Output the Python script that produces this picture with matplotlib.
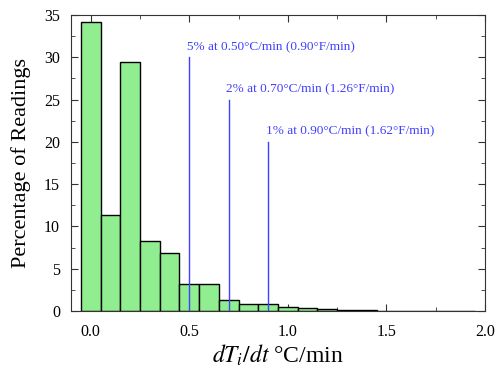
import matplotlib
matplotlib.use("Agg")
import matplotlib.pyplot as plt
from matplotlib.ticker import MultipleLocator

bin_centers = [0.0, 0.1, 0.2, 0.3, 0.4, 0.5, 0.6, 0.7, 0.8, 0.9, 1.0, 1.1, 1.2, 1.3, 1.4, 1.5, 1.6, 1.7, 1.8, 1.9]
percentages = [34.2, 11.3, 29.5, 8.3, 6.8, 3.2, 3.2, 1.3, 0.85, 0.8, 0.5, 0.35, 0.2, 0.15, 0.1, 0.05, 0.03, 0.02, 0.02, 0.01]

marker_x = [0.5, 0.7, 0.9]
marker_top = [30, 25, 20]
marker_labels = ["5% at 0.50°C/min (0.90°F/min)",
                 "2% at 0.70°C/min (1.26°F/min)",
                 "1% at 0.90°C/min (1.62°F/min)"]

plt.rcParams['font.family'] = ['Liberation Serif', 'DejaVu Serif']
plt.rcParams['mathtext.fontset'] = 'stix'

fig = plt.figure(figsize=(4.96, 3.67), dpi=100)
ax = fig.add_axes([71/496, 1-311/367, (485-71)/496, (311-15)/367])

ax.bar(bin_centers, percentages, width=0.1, color='#90ee90', edgecolor='black', linewidth=1.0, zorder=2)

blue = '#4040ff'
for x, top, lab in zip(marker_x, marker_top, marker_labels):
    ax.plot([x, x], [0, top], color=blue, linewidth=1.0, zorder=3)
    ax.text(x - 0.012, top + 0.5, lab, color=blue, fontsize=9.5, ha='left', va='bottom', zorder=4)

ax.set_xlim(-0.1, 2.0)
ax.set_ylim(0, 35)
ax.xaxis.set_major_locator(MultipleLocator(0.5))
ax.xaxis.set_minor_locator(MultipleLocator(0.25))
ax.yaxis.set_major_locator(MultipleLocator(5))
ax.yaxis.set_minor_locator(MultipleLocator(2.5))
ax.xaxis.set_major_formatter(matplotlib.ticker.FormatStrFormatter('%.1f'))
ax.tick_params(which='both', direction='in', top=True, right=True, labelsize=11.5, color='#333333')
ax.tick_params(which='major', length=5)
ax.tick_params(which='minor', length=3)
ax.tick_params(axis='x', pad=9)
ax.tick_params(axis='y', pad=8)
for s in ax.spines.values():
    s.set_color('#333333')

ax.set_ylabel('Percentage of Readings', fontsize=16, labelpad=9)
ax.set_xlabel(r'$dT_i/dt$ °C/min', fontsize=17, labelpad=2)

fig.savefig('out.png', dpi=100)
